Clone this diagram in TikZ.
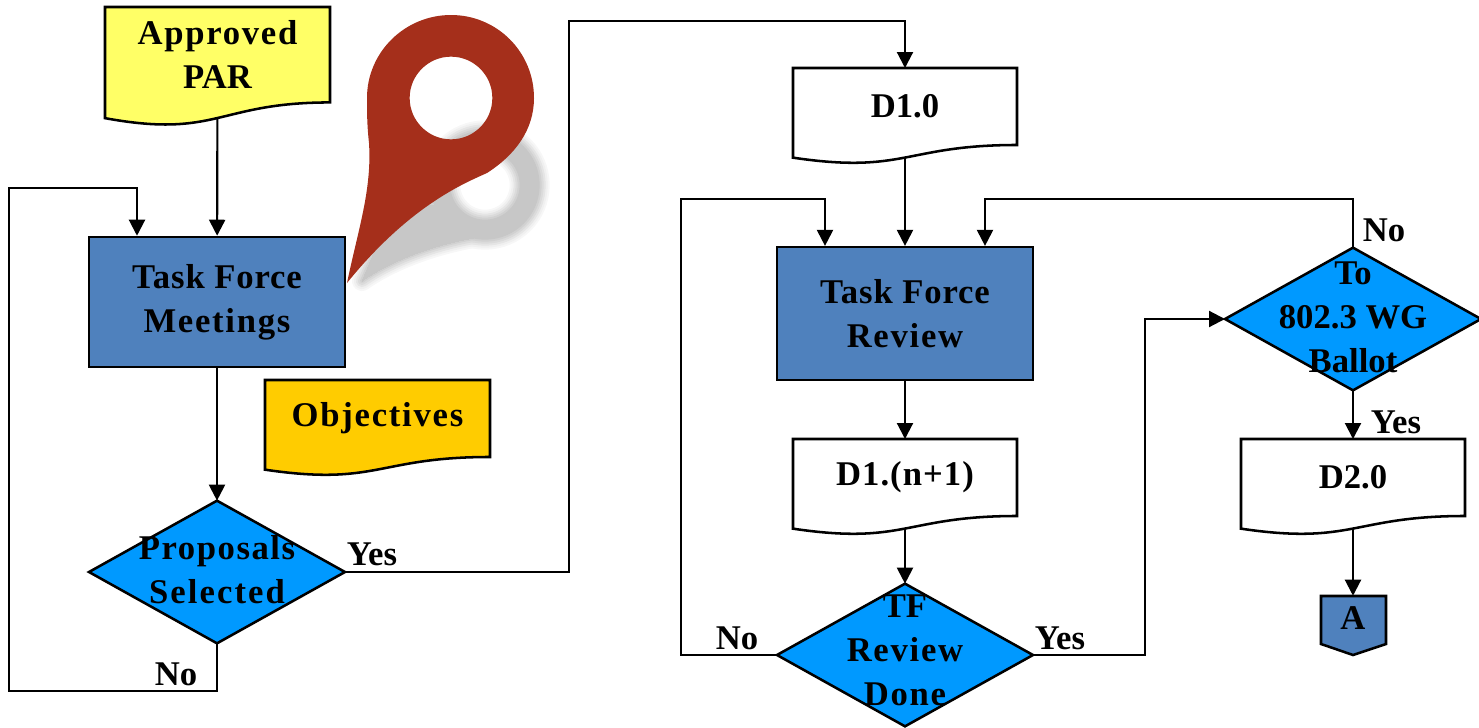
\documentclass[tikz,border=0pt]{standalone}
\usepackage{fontspec}
\setmainfont{Liberation Serif}
\usetikzlibrary{arrows.meta}
\usetikzlibrary{shapes.geometric}

\definecolor{parYellow}{HTML}{FFFF66}
\definecolor{objOrange}{HTML}{FFCC00}
\definecolor{boxBlue}{HTML}{4F81BD}
\definecolor{decisionBlue}{HTML}{0099FF}
\definecolor{pinRed}{HTML}{A52F1B}

\tikzset{
  labeltext/.style={font=\bfseries\fontsize{26}{33}\selectfont, align=center, inner sep=0pt, text=black},
  process/.style={draw, line width=1.9pt, fill=boxBlue, minimum width=192pt, labeltext},
  decision/.style={diamond, draw, line width=1.9pt, fill=decisionBlue, minimum width=192pt, minimum height=107pt, inner sep=0pt, outer sep=0pt},
  docline/.style={draw, line width=1.9pt},
  docarea/.style={rectangle, inner sep=0pt, outer sep=0pt},
  flow/.style={line width=1.6pt, -{Triangle[length=12pt,width=12pt]}}
}

% wider letter spacing for one line of text
\newcommand{\wide}[2]{{\addfontfeature{LetterSpace=#1}#2}}

% document symbol: name, left, top, width, height, fill, text
\newcommand{\docshape}[7]{%
  \draw[docline, fill=#6] (#2,#3) -- ({#2+#4},#3) -- ({#2+#4},{#3+0.802*#5})
    .. controls ({#2+0.5*#4},{#3+0.802*#5}) and ({#2+0.5*#4},{#3+1.1075*#5}) .. (#2,{#3+0.934*#5}) -- cycle;
  \node[docarea, minimum width={#4*0.75pt}, minimum height={0.933*#5*0.75pt}] (#1) at ({#2+0.5*#4},{#3+0.4665*#5}) {};
  \node[labeltext] (#1text) at ({#2+0.5*#4},{#3+0.4*#5}) {#7};
}

\begin{document}
\begin{tikzpicture}[x=0.75pt,y=-0.75pt]

\useasboundingbox (0,0) rectangle (1479,728);

% Shadow of the pin
\foreach \w/\c in {20/3,16/6,12/10,8/14,4/18,0/22} {
  \draw[black!\c, line width={(20+\w)*0.75pt}] (485,185) circle (33.5pt);
  \draw[black!\c, fill=black!\c, line width={\w*0.75pt}, line join=round] (362,281) .. controls (395,258) and (440,243) .. (485,236) -- (455,205) -- (420,205) -- (375,250) -- cycle;
}

% Pin
\fill[pinRed, even odd rule] (347,283) .. controls (358,230) and (372,190) .. (369,143)
  .. controls (367,125) and (367,112) .. (367,98)
  .. controls (367,52) and (405,15) .. (451,15)
  .. controls (497,15) and (534,52) .. (534,98)
  .. controls (534,130) and (515,155) .. (487,173)
  .. controls (465,183) and (410,205) .. (347,283) -- cycle
  (451,98) circle (31pt);

% Left column
\docshape{par}{105}{7}{225}{119}{parYellow}{\wide{5}{Approved}\\PAR}
\node[process, minimum height=97.5pt] (meetings) at (217,302) {\wide{2.5}{Task Force}\\\wide{5}{Meetings}};
\docshape{objectives}{265}{380}{225}{96}{objOrange}{\wide{5}{Objectives}}
\node[decision] (proposals) at (217,572) {};
\node[labeltext] (proposalstext) at (217,570) {\wide{4.5}{Proposals}\\\wide{6}{Selected}};

% Middle column
\docshape{dOne}{793}{68}{224}{96}{white}{D1.0}
\node[process, minimum height=99.5pt] (review) at (905,313.5) {\wide{2.5}{Task Force}\\\wide{5}{Review}};
\docshape{dNext}{793}{439}{224}{96}{white}{\wide{3}{D1.(n+1)}}
\node[decision] (tfdone) at (905,655) {};
\node[labeltext] (tfdonetext) at (905,650) {TF\\\wide{5}{Review}\\\wide{5}{Done}};

% Right column
\node[decision] (ballot) at (1353,319) {};
\node[labeltext] (ballottext) at (1353,317) {To\\802.3 WG\\Ballot};
\docshape{dTwo}{1241}{439}{224}{96}{white}{D2.0}
\draw[docline, fill=boxBlue] (1321,596) -- (1386,596) -- (1386,644) -- (1353,655) -- (1321,644) -- cycle;
\node[labeltext, minimum width=48pt, minimum height=33pt] (offpage) at (1353,618) {A};

% Connectors
\draw[flow] (par) -- (meetings);
\draw[flow] (meetings) -- (proposals);
\draw[flow] (proposals.south) -- ++(0,48) -- ++(-208,0) -- ++(0,-503) -- ++(128,0) -- ([xshift=-60pt]meetings.north);
\draw[flow] (proposals.east) -- ++(224,0) -- ++(0,-551) -- ++(336,0) -- (dOne.north);
\draw[flow] (dOne) -- (review);
\draw[flow] (review) -- (dNext);
\draw[flow] (dNext) -- (tfdone);
\draw[flow] (tfdone.west) -- ++(-96,0) -- ++(0,-456) -- ++(144,0) -- ([xshift=-60pt]review.north);
\draw[flow] (tfdone.east) -- ++(112,0) -- ++(0,-336) -- (ballot.west);
\draw[flow] (ballot.north) -- ++(0,-49) -- ++(-368,0) -- ([xshift=60pt]review.north);
\draw[flow] (ballot) -- (dTwo);
\draw[flow] (dTwo) -- (offpage);

% Yes and No
\node[labeltext] (yesProposals) at (372,554) {Yes};
\node[labeltext] (noProposals) at (176,674) {No};
\node[labeltext] (noReview) at (737,638) {No};
\node[labeltext] (yesReview) at (1060,638) {Yes};
\node[labeltext] (noBallot) at (1384,230) {No};
\node[labeltext] (yesBallot) at (1396,422) {Yes};

\end{tikzpicture}
\end{document}
